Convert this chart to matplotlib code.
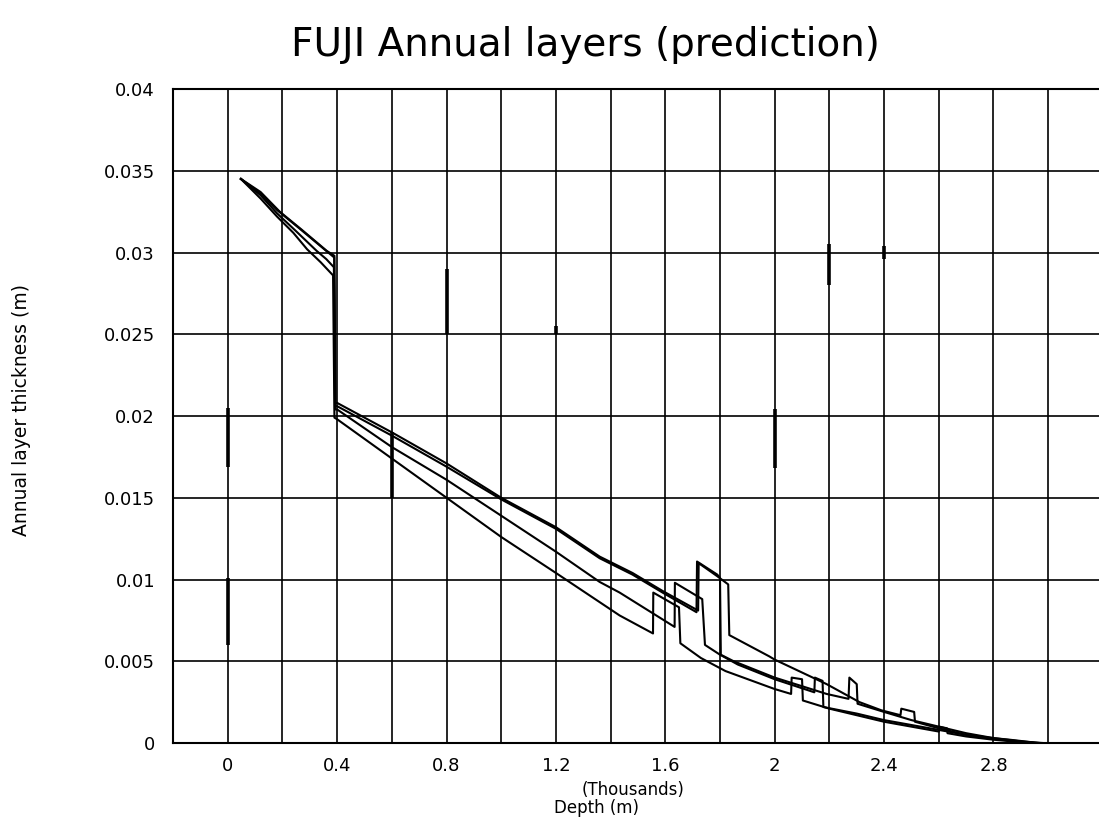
import matplotlib
matplotlib.use('Agg')
import matplotlib.pyplot as plt

# depth in thousands of metres, thickness in metres
depth_a = [0.048, 0.12, 0.18, 0.24, 0.29, 0.34, 0.385, 0.39, 0.40, 0.6, 0.8, 1.0, 1.2, 1.433,
           1.555, 1.556, 1.65, 1.655, 1.73, 1.82, 2.0, 2.06, 2.062, 2.10, 2.103, 2.2, 2.3, 2.4,
           2.5, 2.6, 2.602, 2.63, 2.632, 2.7, 2.8, 2.9, 2.95]
thick_a = [0.0345, 0.0333, 0.0322, 0.0312, 0.0302, 0.0294, 0.0286, 0.0199, 0.0198, 0.0174, 0.0150,
           0.0126, 0.0104, 0.0078, 0.0067, 0.0092, 0.0083, 0.0061, 0.0052, 0.0044, 0.0033, 0.0030,
           0.0040, 0.0039, 0.0026, 0.0021, 0.0017, 0.0013, 0.0010, 0.0007, 0.0010, 0.0009, 0.0006,
           0.0004, 0.0002, 0.00005, 0.0]

depth_b = [0.048, 0.12, 0.18, 0.25, 0.325, 0.36, 0.388, 0.392, 0.40, 0.6, 0.8, 1.0, 1.2, 1.36,
           1.433, 1.634, 1.635, 1.735, 1.745, 1.80, 1.865, 2.0, 2.145, 2.147, 2.175, 2.178, 2.3,
           2.4, 2.5, 2.6, 2.7, 2.8, 2.9, 2.96]
thick_b = [0.0345, 0.0335, 0.0324, 0.0313, 0.0301, 0.0296, 0.0291, 0.0204, 0.0204, 0.0181, 0.0161,
           0.0139, 0.0117, 0.00985, 0.0092, 0.0071, 0.0098, 0.0088, 0.0060, 0.0054, 0.0048, 0.0039,
           0.0031, 0.0040, 0.0038, 0.0022, 0.0018, 0.0014, 0.0011, 0.0008, 0.0005, 0.00025, 0.00008,
           0.0]

depth_c = [0.048, 0.12, 0.18, 0.26, 0.36, 0.389, 0.393, 0.40, 0.6, 0.8, 1.0, 1.2, 1.36, 1.48,
           1.59, 1.714, 1.716, 1.79, 1.80, 1.803, 1.85, 2.0, 2.19, 2.27, 2.273, 2.30, 2.303, 2.4,
           2.5, 2.6, 2.7, 2.8, 2.9, 2.97]
thick_c = [0.0345, 0.0336, 0.0326, 0.0315, 0.0301, 0.0297, 0.0206, 0.0206, 0.0188, 0.0169, 0.0149,
           0.0131, 0.0113, 0.0103, 0.0092, 0.0080, 0.0111, 0.0103, 0.0101, 0.0054, 0.0050, 0.0040,
           0.0030, 0.0027, 0.0040, 0.0036, 0.0024, 0.0019, 0.0014, 0.0010, 0.0006, 0.0003, 0.0001,
           0.0]

depth_d = [0.048, 0.12, 0.19, 0.27, 0.362, 0.39, 0.394, 0.40, 0.6, 0.8, 1.0, 1.2, 1.36, 1.48,
           1.59, 1.72, 1.722, 1.79, 1.83, 1.834, 1.98, 2.0, 2.19, 2.31, 2.39, 2.46, 2.463, 2.51,
           2.513, 2.6, 2.7, 2.8, 2.86, 2.95, 2.98]
thick_d = [0.0345, 0.0337, 0.0325, 0.0314, 0.0301, 0.0298, 0.0208, 0.0208, 0.0190, 0.0171, 0.0150,
           0.0132, 0.0114, 0.0104, 0.0093, 0.0081, 0.0110, 0.0102, 0.0097, 0.0066, 0.0053, 0.0051,
           0.0036, 0.0025, 0.0020, 0.0017, 0.0021, 0.0019, 0.0013, 0.0009, 0.0005, 0.0003, 0.0002,
           0.00003, 0.0]

# heavier strokes on some grid lines in the scan: (depth, low, high)
grid_marks = [(0.0, 0.0169, 0.0205), (0.0, 0.0060, 0.0101), (0.6, 0.0150, 0.0190),
              (0.8, 0.0250, 0.0290), (1.2, 0.0250, 0.0255), (2.0, 0.0168, 0.0204),
              (2.2, 0.0280, 0.0305), (2.4, 0.0296, 0.0304)]

x_grid = [-0.2 + 0.2 * i for i in range(18)]
x_labels = {0.0: '0', 0.4: '0.4', 0.8: '0.8', 1.2: '1.2', 1.6: '1.6', 2.0: '2', 2.4: '2.4', 2.8: '2.8'}
y_ticks = [0, 0.005, 0.01, 0.015, 0.02, 0.025, 0.03, 0.035, 0.04]
y_labels = ['0', '0.005', '0.01', '0.015', '0.02', '0.025', '0.03', '0.035', '0.04']

fig = plt.figure(figsize=(10.99, 8.19), dpi=100)
ax = fig.add_axes([0.1575, 0.0928, 0.846, 0.7985])

for d, t in [(depth_a, thick_a), (depth_b, thick_b), (depth_c, thick_c), (depth_d, thick_d)]:
    ax.plot(d, t, color='black', linewidth=1.5, solid_joinstyle='round')

for x, lo, hi in grid_marks:
    ax.vlines(x, lo, hi, color='black', linewidth=2.6)

ax.set_xlim(-0.2, 3.2)
ax.set_ylim(0, 0.04)
ax.set_xticks(x_grid)
ax.set_xticklabels([x_labels.get(round(x, 1), '') for x in x_grid])
ax.set_yticks(y_ticks)
ax.set_yticklabels(y_labels)
ax.grid(True, color='black', linewidth=1.2)
ax.tick_params(length=0, labelsize=13)
ax.tick_params(axis='x', pad=10)
ax.tick_params(axis='y', pad=13)
for s in ax.spines.values():
    s.set_linewidth(1.5)

fig.text(0.533, 0.945, 'FUJI Annual layers (prediction)', ha='center', va='center', fontsize=28)
fig.text(0.576, 0.036, '(Thousands)', ha='center', va='center', fontsize=12)
fig.text(0.543, 0.014, 'Depth (m)', ha='center', va='center', fontsize=12)
fig.text(0.02, 0.5, 'Annual layer thickness (m)', ha='center', va='center', rotation=90, fontsize=13.5)

fig.savefig('out.png', dpi=100)
